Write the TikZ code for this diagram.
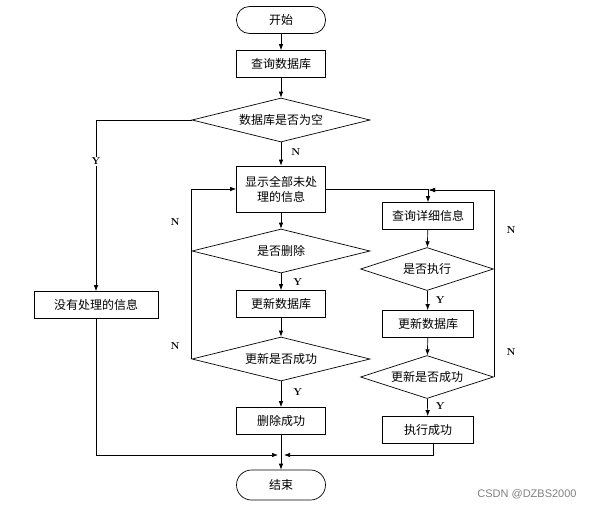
\documentclass[tikz,border=0pt]{standalone}
\usepackage{fontspec}
\newfontfamily\cjk{Noto Sans CJK SC}
\newfontfamily\wmfont{Liberation Sans}
\usetikzlibrary{positioning, shapes.geometric, arrows.meta}
\tikzset{
terminal/.style={draw, rounded corners=13pt, minimum width=89pt, minimum height=27pt, font=\cjk\fontsize{12}{15}\selectfont},
process/.style={draw, minimum width=89pt, minimum height=27pt, font=\cjk\fontsize{12}{15}\selectfont},
decision/.style={draw, diamond, aspect=4, inner sep=1pt, minimum width=178pt, minimum height=44pt, font=\cjk\fontsize{12}{15}\selectfont},
flow/.style={-{Latex[length=6pt,width=4.5pt]}},
yn/.style={font=\bfseries\fontsize{10}{12}\selectfont, inner sep=1pt},
}

\begin{document}
\begin{tikzpicture}[x=1pt, y=-1pt, line width=0.7pt]
    \useasboundingbox (0,0) rectangle (599,509);

    %middle column
    \node[terminal] (start) at (281,20) {开始};
    \node[process] (query) at (281,64) {查询数据库};
    \node[decision] (empty) at (281,120) {数据库是否为空};
    \node[process, minimum height=46pt, align=center] (show) at (281,189) {显示全部未处\\理的信息};
    \node[decision] (del) at (281,251) {是否删除};
    \node[process] (upd) at (281,304) {更新数据库};
    \node[decision] (updok) at (281,359) {更新是否成功};
    \node[process] (delok) at (281,421) {删除成功};
    \node[terminal, minimum height=30pt, rounded corners=15pt] (end) at (281,485) {结束};

    %left and right columns
    \node[process, minimum width=124pt] (none) at (96,305) {没有处理的信息};
    \node[process, minimum width=91pt] (detail) at (428,216) {查询详细信息};
    \node[decision, minimum width=133pt, minimum height=43pt] (exec) at (427,269) {是否执行};
    \node[process, minimum width=91pt] (upd2) at (428,324) {更新数据库};
    \node[decision, minimum width=133pt, minimum height=43pt] (updok2) at (427,377) {更新是否成功};
    \node[process, minimum width=91pt] (execok) at (428,430) {执行成功};

    %corners
    \coordinate (split) at (429,190);
    \coordinate (mergeL) at (278,455);
    \coordinate (mergeR) at (284,455);

    %labels
    \node[yn] (nl1) at (175,222) {N};
    \node[yn] (nl2) at (175,346) {N};
    \node[yn] (nr1) at (511,230) {N};
    \node[yn] (nr2) at (511,352) {N};
    \node[font=\wmfont\fontsize{11}{13}\selectfont, text=gray] (mark) at (527,494) {CSDN @DZBS2000};

    %middle flow
    \draw[flow] (start) -- (query);
    \draw[flow] (query) -- (empty);
    \draw[flow] (empty) -- node[yn, right, pos=.4, xshift=9pt] (nmid) {N} (show);
    \draw[flow] (show) -- (del);
    \draw[flow] (del) -- node[yn, right, xshift=11pt] (ydel) {Y} (upd);
    \draw[flow] (upd) -- (updok);
    \draw[flow] (updok) -- node[yn, right, pos=.4, xshift=11pt] (yok) {Y} (delok);
    \draw[flow] (delok) -- (end);
    \draw[flow] (updok.west) |- (show.west);

    %left flow
    \draw[flow] (empty.west) -| node[yn, fill=white, pos=.62] (yempty) {Y} (none);
    \draw[flow] (none) |- (mergeL);

    %right flow
    \draw[flow] (show.east) -| (detail);
    \draw[flow] (detail) -- (exec);
    \draw[flow] (exec) -- node[yn, right, xshift=7pt] (yexec) {Y} (upd2);
    \draw[flow] (upd2) -- (updok2);
    \draw[flow] (updok2) -- node[yn, right, pos=.4, xshift=7pt] (yok2) {Y} (execok);
    \draw[flow] (exec.east) |- (split);
    \draw[flow] (updok2.east) |- (split);
    \draw[flow] ([xshift=5pt]execok.south) |- (mergeR);

\end{tikzpicture}
\end{document}
